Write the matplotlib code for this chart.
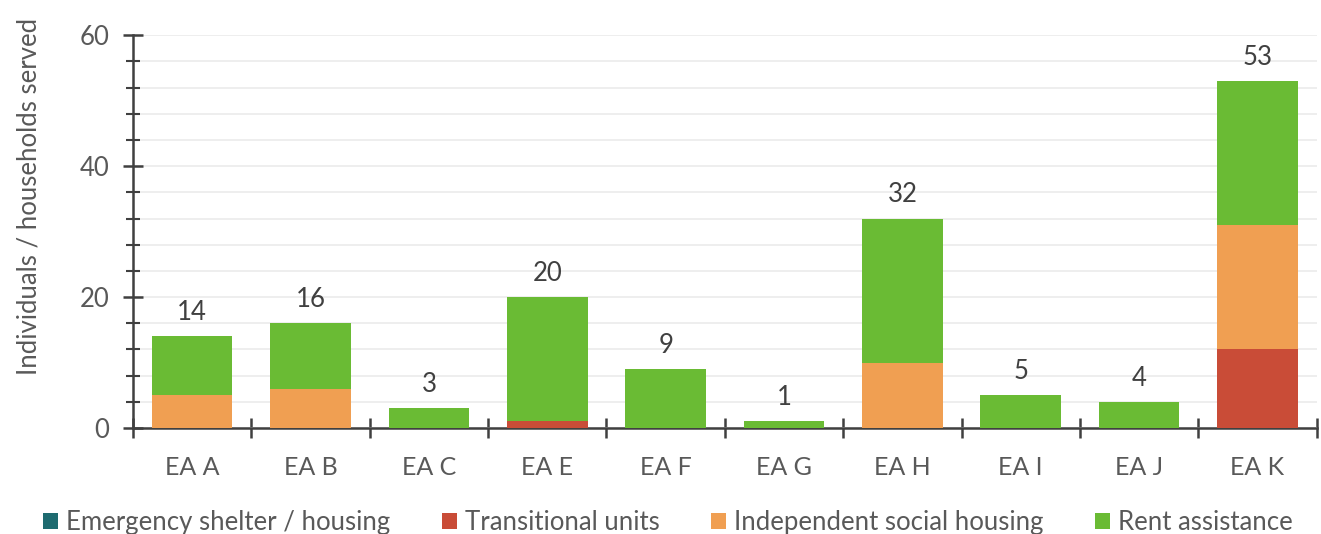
import matplotlib.pyplot as plt
import numpy as np

plt.rcParams['font.family'] = ['Lato', 'DejaVu Sans']

# Datos por agencia
categories = ["EA A", "EA B", "EA C", "EA E", "EA F", "EA G", "EA H", "EA I", "EA J", "EA K"]
emergency = [0, 0, 0, 0, 0, 0, 0, 0, 0, 0]
transitional = [0, 0, 0, 1, 0, 0, 0, 0, 0, 12]
independent = [5, 6, 0, 0, 0, 0, 10, 0, 0, 19]
rent = [9, 10, 3, 19, 9, 1, 22, 5, 4, 22]

series = [
    ("Emergency shelter / housing", emergency, "#1E6B70"),
    ("Transitional units", transitional, "#C94C37"),
    ("Independent social housing", independent, "#F09F52"),
    ("Rent assistance", rent, "#6ABB34"),
]

fig = plt.figure(figsize=(13.21, 5.34), dpi=100)
ax = fig.add_axes([0.1007, 0.1985, 0.896, 0.7355])

x = np.arange(len(categories))
bottom = np.zeros(len(categories))
for name, vals, color in series:
    ax.bar(x, vals, width=0.68, bottom=bottom, color=color, label=name, zorder=3)
    bottom += np.array(vals)

# Totales sobre cada barra
for xi, total in zip(x, bottom):
    ax.annotate(f"{int(total)}", (xi, total), xytext=(0, 8), textcoords="offset points",
                ha="center", va="bottom", fontsize=18.5, color="#404040")

ax.set_xlim(-0.5, len(categories) - 0.5)
ax.set_ylim(0, 60)
ax.set_yticks([0, 20, 40, 60])
ax.set_yticks(np.arange(0, 61, 4), minor=True)
ax.yaxis.grid(True, which="both", color="#EBEBEB", linewidth=1.2, zorder=0)
ax.set_axisbelow(True)

# Marcas del eje x entre categorias
ax.set_xticks(np.arange(-0.5, len(categories), 1.0))
ax.set_xticklabels([])
ax.set_xticks(x, minor=True)
ax.set_xticklabels(categories, minor=True)
ax.tick_params(axis="x", which="major", direction="inout", length=14, width=1.8, color="#404040")
ax.tick_params(axis="x", which="minor", length=0, pad=20, labelsize=18, labelcolor="#595959")
ax.tick_params(axis="y", which="major", direction="inout", length=14, width=1.8, color="#404040",
               labelsize=18.5, labelcolor="#595959", pad=10)
ax.tick_params(axis="y", which="minor", direction="inout", length=10, width=1.5, color="#404040")

for side in ["top", "right"]:
    ax.spines[side].set_visible(False)
for side in ["left", "bottom"]:
    ax.spines[side].set_color("#404040")
    ax.spines[side].set_linewidth(1.8)

fig.text(0.022, 0.632, "Individuals / households served", rotation=90, ha="center", va="center",
         fontsize=18.5, color="#595959")

fig.legend(loc="lower left", bbox_to_anchor=(0.015, -0.045), ncol=4, frameon=False, fontsize=18.5,
           handlelength=0.6, handleheight=0.6, handletextpad=0.3, columnspacing=2.0,
           labelcolor="#595959")

fig.savefig("out.png", dpi=100)
